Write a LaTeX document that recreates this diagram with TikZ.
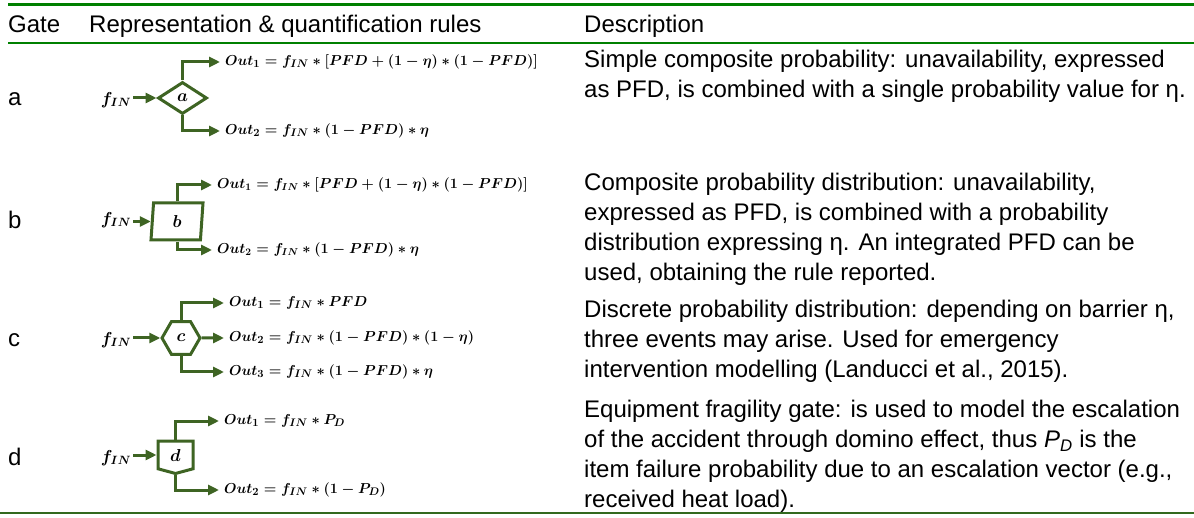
\documentclass[tikz,border=0pt]{standalone}
\usepackage[no-math]{fontspec}
\setmainfont{Liberation Sans}
\usetikzlibrary{shapes.geometric,shapes.symbols,arrows.meta}

\definecolor{gategreen}{RGB}{62,100,35}
\definecolor{rulegreen}{RGB}{0,128,0}
\definecolor{bottomgreen}{RGB}{50,105,30}

\begin{document}
\begin{tikzpicture}[x=1pt,y=-1pt]
    \tikzstyle{gate}=[draw=gategreen, line width=3pt, inner sep=0pt, font=\fontsize{17}{17}\selectfont\boldmath];
    \tikzstyle{flow}=[draw=gategreen, line width=3pt, -{Triangle[length=11pt,width=10pt]}];
    \tikzstyle{rule text}=[anchor=west, inner sep=0pt, inner xsep=5pt, font=\fontsize{15.2}{15}\selectfont\boldmath];
    \tikzstyle{small rule text}=[rule text, font=\fontsize{13.8}{14}\selectfont\boldmath];
    \tikzstyle{flow in}=[anchor=center, inner sep=2pt, font=\fontsize{17}{17}\selectfont\boldmath];
    \tikzstyle{head}=[anchor=base west, inner sep=0pt, font=\fontsize{24}{30}\selectfont];
    \tikzstyle{desc}=[anchor=base west, align=left, inner sep=0pt, font=\fontsize{24}{30}\selectfont];

    \useasboundingbox (0,0) rectangle (1194,518);

    % table rules
    \draw[rulegreen, line width=2.5pt] (8,4.5) -- (1194,4.5);
    \draw[rulegreen, line width=2.5pt] (8,43) -- (1194,43);
    \draw[bottomgreen, line width=2pt] (0,513) -- (1194,513);

    \node[head] (hgate) at (8,32.6) {Gate};
    \node[head] (hrep) at (89,32.6) {Representation \& quantification rules};
    \node[head] (hdesc) at (584,32.6) {Description};

    % gate a
    \node[head, anchor=west] (la) at (8,99) {a};
    \node[flow in] (fa) at (116,100) {$f_{IN}$};
    \node[gate, diamond, minimum width=49pt, minimum height=32pt] (ga) at (182.5,98) {$a$};
    \node[rule text] (oa1) at (220,62) {$Out_1 = f_{IN} * [PFD + (1-\eta) * (1-PFD)]$};
    \node[rule text] (oa2) at (220,131) {$Out_2 = f_{IN} * (1-PFD) * \eta$};
    \draw[flow] (fa.east |- ga.west) -- (ga.west);
    \draw[flow] (ga.north) |- (oa1.west);
    \draw[flow] (ga.south) |- (oa2.west);
    \node[desc] (da) at (584,97.6) {Simple composite probability: unavailability, expressed\\as PFD, is combined with a single probability value for η.};

    % gate b
    \node[head, anchor=west] (lb) at (8,220) {b};
    \node[flow in] (fb) at (116,220) {$f_{IN}$};
    \node[gate, trapezium, trapezium left angle=78, trapezium right angle=102, trapezium stretches body, minimum width=52pt, minimum height=37pt] (gb) at (177,221.5) {$b$};
    \node[small rule text] (ob1) at (212,185) {$Out_1 = f_{IN} * [PFD + (1-\eta) * (1-PFD)]$};
    \node[small rule text] (ob2) at (212,250) {$Out_2 = f_{IN} * (1-PFD) * \eta$};
    \draw[flow] (fb.east |- gb.west) -- (gb.west);
    \draw[flow] (gb.north) |- (ob1.west);
    \draw[flow] (gb.south) |- (ob2.west);
    \node[desc] (db) at (584,280.6) {Composite probability distribution: unavailability,\\expressed as PFD, is combined with a probability\\distribution expressing η. An integrated PFD can be\\used, obtaining the rule reported.};

    % gate c
    \node[head, anchor=west] (lc) at (8,340) {c};
    \node[flow in] (fc) at (116,340) {$f_{IN}$};
    \node[gate, regular polygon, regular polygon sides=6, minimum size=38pt] (gc) at (181,338) {$c$};
    \node[rule text] (oc1) at (224,303) {$Out_1 = f_{IN} * PFD$};
    \node[rule text] (oc2) at (224,338) {$Out_2 = f_{IN} * (1-PFD) * (1-\eta)$};
    \node[rule text] (oc3) at (224,372) {$Out_3 = f_{IN} * (1-PFD) * \eta$};
    \draw[flow] (fc.east |- gc.west) -- (gc.west);
    \draw[flow] (gc.north) |- (oc1.west);
    \draw[flow] (gc.east) -- (oc2.west);
    \draw[flow] (gc.south) |- (oc3.west);
    \node[desc] (dc) at (584,377.6) {Discrete probability distribution: depending on barrier η,\\three events may arise. Used for emergency\\intervention modelling (Landucci et al., 2015).};

    % gate d
    \node[head, anchor=west] (ld) at (8,457) {d};
    \node[flow in] (fd) at (116,458) {$f_{IN}$};
    \node[gate, signal, signal to=south, signal pointer angle=150, minimum width=35pt, minimum height=29pt] (gd) at (175.5,455) {$d$};
    \node[rule text] (od1) at (219,421) {$Out_1 = f_{IN} * P_D$};
    \node[rule text] (od2) at (219,490) {$Out_2 = f_{IN} * (1-P_D)$};
    \draw[flow] (fd.east |- gd.west) -- (gd.west);
    \draw[flow] (gd.north) |- (od1.west);
    \draw[flow] (gd.south) |- (od2.west);
    \node[desc] (dd) at (584,507.6) {Equipment fragility gate: is used to model the escalation\\of the accident through domino effect, thus \textit{P}\textsubscript{\textit{D}} is the\\item failure probability due to an escalation vector (e.g.,\\received heat load).};
\end{tikzpicture}
\end{document}
